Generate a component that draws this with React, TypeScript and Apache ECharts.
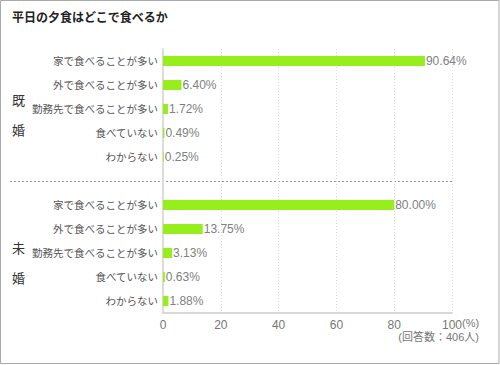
import React, { useEffect, useRef } from "react";
import * as echarts from "echarts";

const title = "平日の夕食はどこで食べるか";
const groupMarried = ["既", "婚"];
const groupSingle = ["未", "婚"];
const answerLabels = [
  "家で食べることが多い",
  "外で食べることが多い",
  "勤務先で食べることが多い",
  "食べていない",
  "わからない",
];
const marriedValues = [90.64, 6.4, 1.72, 0.49, 0.25];
const singleValues = [80.0, 13.75, 3.13, 0.63, 1.88];
const xTicks = [0, 20, 40, 60, 80, 100];
const unitLabel = "(%)";
const noteLabel = "(回答数：406人)";

const FONT = "'Liberation Sans', Arial, 'Noto Sans CJK JP', sans-serif";

export default function App() {
  const ref = useRef<HTMLDivElement>(null);
  useEffect(() => {
    document.body.style.margin = "0";
    if (!ref.current) return;
    const chart = echarts.init(ref.current, null, { renderer: "svg" });
    const categories = [...answerLabels, "", ...answerLabels];
    const values: (number | string)[] = [...marriedValues, "-", ...singleValues];
    const gridLeft = 163;
    const gridTop = 49;
    const gridRight = 48;
    const gridBottom = 52;
    const plotH = 365 - gridTop - gridBottom;
    const rowH = plotH / categories.length;
    const groupCenter = (i0: number) => gridTop + rowH * (i0 + 2.5);
    const option: any = {
      animation: false,
      textStyle: { fontFamily: FONT },
      grid: { left: gridLeft, right: gridRight, top: gridTop, bottom: gridBottom, containLabel: false },
      xAxis: {
        type: "value",
        min: xTicks[0],
        max: xTicks[xTicks.length - 1],
        interval: xTicks[1] - xTicks[0],
        axisLine: { show: true, lineStyle: { color: "#d8d8d8", width: 2 } },
        axisTick: { show: false },
        axisLabel: { color: "#777", fontSize: 12, margin: 6, fontFamily: FONT },
        splitLine: { show: true, lineStyle: { color: "#dcdcdc", type: [1, 2], width: 1 } },
      },
      yAxis: {
        type: "category",
        inverse: true,
        data: categories,
        axisLine: { show: true, lineStyle: { color: "#dcdcdc", width: 2 } },
        axisTick: { show: false },
        axisLabel: { color: "#555", fontSize: 10.5, margin: 5, fontFamily: FONT },
        splitLine: { show: false },
      },
      series: [
        {
          type: "bar",
          data: values,
          barWidth: 10,
          itemStyle: { color: "#96ee1c" },
          label: {
            show: true,
            position: "right",
            distance: 1,
            color: "#808080",
            fontSize: 12,
            fontFamily: FONT,
            formatter: (p: any) => Number(p.value).toFixed(2) + "%",
          },
        },
      ],
      graphic: [
        {
          type: "rect",
          shape: { x: 0.5, y: 0.5, width: 498.5, height: 363 },
          style: { fill: "none", stroke: "#aaa", lineWidth: 1 },
        },
        {
          type: "text",
          x: 12,
          y: 18,
          style: { text: title, fill: "#222", fontSize: 12, fontWeight: "bold", fontFamily: FONT, textVerticalAlign: "middle" },
        },
        {
          type: "line",
          shape: { x1: 10, y1: Math.round(groupCenter(3)) + 0.5, x2: 500 - gridRight, y2: Math.round(groupCenter(3)) + 0.5 },
          style: { stroke: "#999", lineWidth: 1, lineDash: [2, 2] },
        },
        ...groupMarried.map((t, i) => ({
          type: "text",
          x: 12,
          y: groupCenter(0) - 9 + i * 30,
          style: { text: t, fill: "#333", fontSize: 13, fontFamily: FONT, textVerticalAlign: "middle" },
        })),
        ...groupSingle.map((t, i) => ({
          type: "text",
          x: 12,
          y: groupCenter(6) - 5 + i * 30,
          style: { text: t, fill: "#333", fontSize: 13, fontFamily: FONT, textVerticalAlign: "middle" },
        })),
        {
          type: "text",
          x: 462,
          y: 323,
          style: { text: unitLabel, fill: "#777", fontSize: 11, fontFamily: FONT, textVerticalAlign: "middle" },
        },
        {
          type: "text",
          x: 479,
          y: 337,
          style: { text: noteLabel, fill: "#777", fontSize: 11, fontFamily: FONT, textAlign: "right", textVerticalAlign: "middle" },
        },
      ],
    };
    chart.setOption(option);
    return () => chart.dispose();
  }, []);
  return <div ref={ref} style={{ position: "absolute", left: 0, top: 0, width: 500, height: 365 }} />;
}
